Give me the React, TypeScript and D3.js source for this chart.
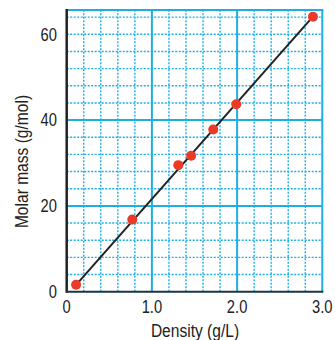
import React from 'react';
import * as d3 from 'd3';

// gas densities (g/L) vs molar mass (g/mol)
const densities = [0.11, 0.77, 1.31, 1.46, 1.72, 1.99, 2.89];
const molarMasses = [1.6, 16.8, 29.5, 31.7, 37.8, 43.7, 64.1];

const xTicks = [0, 1, 2, 3];
const xTickLabels = ['0', '1.0', '2.0', '3.0'];
const yTicks = [0, 20, 40, 60];
const yTickLabels = ['0', '20', '40', '60'];

const W = 335;
const H = 340;
const GRID = '#1eaee6';
const FONT = '"Liberation Sans", Arial, sans-serif';
const NARROW = 0.82; // condensed look of the original typeface

const App = () => {
    const x = d3.scaleLinear().domain([0, 3]).range([66.7, 322.3]);
    const y = d3.scaleLinear().domain([0, 65.66]).range([291.7, 10]);

    const xMinor = d3.range(1, 15).map(i => i * 0.2).filter(v => Math.abs(v - Math.round(v)) > 1e-6);
    const yMinor = d3.range(1, 17).map(i => i * 4).filter(v => v % 20 !== 0 || v === 60);
    const xMajor = [1, 2, 3];
    const yMajor = [20, 40];

    const line = d3.line<number>()
        .x(i => x(densities[i]))
        .y(i => y(molarMasses[i]));
    const ends = [0, densities.length - 1];

    return (
        <svg width={W} height={H} style={{ position: 'absolute', left: 0, top: 0 }}>
            {xMinor.map(v => (
                <line key={'xm' + v} x1={x(v)} x2={x(v)} y1={y(0)} y2={y(65.66)}
                    stroke={GRID} strokeWidth={1.4} strokeDasharray="2,1.5" />
            ))}
            {yMinor.map(v => (
                <line key={'ym' + v} x1={x(0)} x2={x(3)} y1={y(v)} y2={y(v)}
                    stroke={GRID} strokeWidth={1.4} strokeDasharray="2,1.5" />
            ))}
            {xMajor.map(v => (
                <line key={'xM' + v} x1={x(v)} x2={x(v)} y1={y(0)} y2={y(65.66)}
                    stroke={GRID} strokeWidth={2} />
            ))}
            {yMajor.map(v => (
                <line key={'yM' + v} x1={x(0)} x2={x(3)} y1={y(v)} y2={y(v)}
                    stroke={GRID} strokeWidth={2} />
            ))}
            <line x1={x(0)} x2={x(3) + 1} y1={y(65.66)} y2={y(65.66)} stroke={GRID} strokeWidth={2} />

            {/* axes */}
            <line x1={x(0)} x2={x(0)} y1={y(65.66) - 1} y2={y(0) + 1} stroke="#222" strokeWidth={2.5} />
            <line x1={x(0)} x2={x(3) + 1} y1={y(0)} y2={y(0)} stroke="#1c3444" strokeWidth={2} />

            <path d={line(ends) || ''} fill="none" stroke="#222" strokeWidth={2} />
            {densities.map((d, i) => (
                <circle key={i} cx={x(d)} cy={y(molarMasses[i])} r={5} fill="#ea3a28" />
            ))}

            {xTicks.map((v, i) => (
                <text key={'xt' + v} transform={`translate(${x(v)},313) scale(${NARROW},1)`} textAnchor="middle"
                    fontFamily={FONT} fontSize={18} fill="#222">{xTickLabels[i]}</text>
            ))}
            {yTicks.map((v, i) => (
                <text key={'yt' + v} transform={`translate(57,${y(v)}) scale(${NARROW},1)`} dy="0.35em" textAnchor="end"
                    fontFamily={FONT} fontSize={18} fill="#222">{yTickLabels[i]}</text>
            ))}

            <text transform={`translate(195,337) scale(${NARROW},1)`} textAnchor="middle"
                fontFamily={FONT} fontSize={19} fill="#222">
                Density (g/L)
            </text>
            <text transform={`translate(28,161.5) rotate(-90) scale(${NARROW},1)`} textAnchor="middle"
                fontFamily={FONT} fontSize={19} fill="#222">
                Molar mass (g/mol)
            </text>
        </svg>
    );
};

export default App;
